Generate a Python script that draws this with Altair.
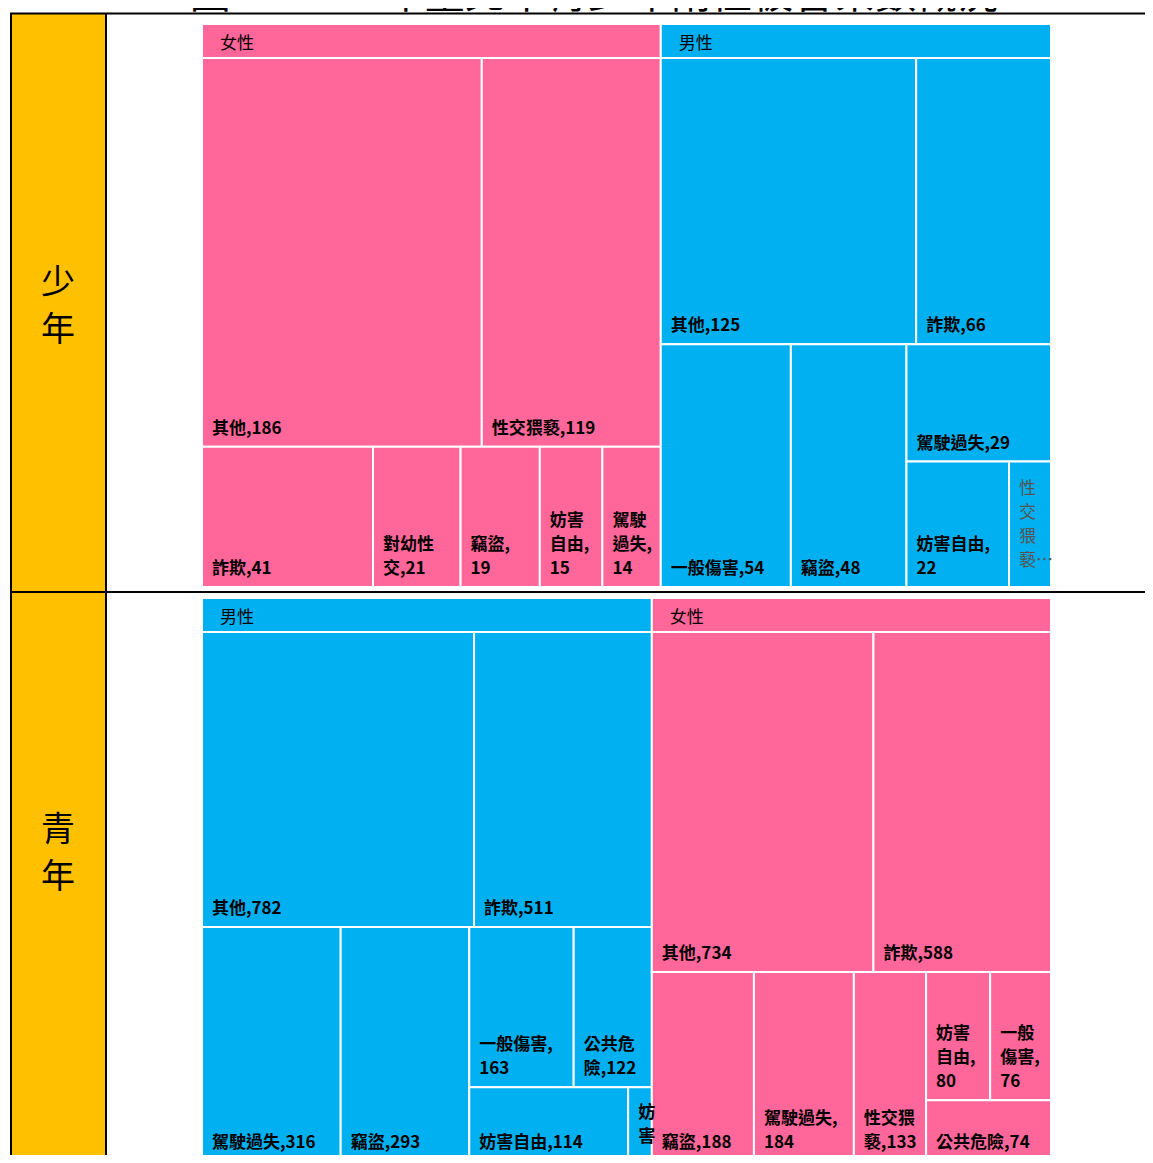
import altair as alt
import pandas as pd

# ---------------- data ----------------
TITLE = "圖\u20021\u2002111\u2002年臺北市青少年兩性被害案數概況"
row_names = ["少\n年", "青\n年"]

teen_groups = ["女性", "男性"]
teen_female_cats = ["其他", "性交猥褻", "詐欺", "對幼性交", "竊盜", "妨害自由", "駕駛過失"]
teen_female_vals = [186, 119, 41, 21, 19, 15, 14]
teen_male_cats = ["其他", "詐欺", "一般傷害", "竊盜", "駕駛過失", "妨害自由", "性交猥褻"]
teen_male_vals = [125, 66, 54, 48, 29, 22, 9]

youth_groups = ["男性", "女性"]
youth_male_cats = ["其他", "詐欺", "駕駛過失", "竊盜", "一般傷害", "公共危險", "妨害自由", "妨害性自主"]
youth_male_vals = [782, 511, 316, 293, 163, 122, 114, 17]
youth_female_cats = ["其他", "詐欺", "竊盜", "駕駛過失", "性交猥褻", "妨害自由", "一般傷害", "公共危險"]
youth_female_vals = [734, 588, 188, 184, 133, 80, 76, 74]

GROUP_COLORS = {"女性": "#FF6699", "男性": "#00B0F0"}

# ---------------- layout helpers ----------------
PHI = (1 + 5 ** 0.5) / 2


def badness(w, h):
    a = h / w
    return max(a / PHI, PHI / a)


def squarify(values, x0, y0, x1, y1):
    rects = [None] * len(values)
    n = len(values)
    i = 0
    while i < n:
        W, H = x1 - x0, y1 - y0
        remaining = sum(values[i:])
        horiz = W <= H

        def worst(k):
            s = sum(values[i:k])
            if horiz:
                sh = H * s / remaining
                return max(badness(W * v / s, sh) for v in values[i:k])
            sw = W * s / remaining
            return max(badness(sw, H * v / s) for v in values[i:k])

        j = i + 1
        cur = worst(j)
        while j < n:
            nw = worst(j + 1)
            if nw > cur:
                break
            cur = nw
            j += 1
        s = sum(values[i:j])
        if horiz:
            sh = H * s / remaining
            xx = x0
            for k in range(i, j):
                ww = W * values[k] / s
                rects[k] = (xx, y0, xx + ww, y0 + sh)
                xx += ww
            y0 += sh
        else:
            sw = W * s / remaining
            yy = y0
            for k in range(i, j):
                hh = H * values[k] / s
                rects[k] = (x0, yy, x0 + sw, yy + hh)
                yy += hh
            x0 += sw
        i = j
    return rects


def tokens(s):
    out, i = [], 0
    while i < len(s):
        if s[i].isdigit():
            j = i
            while j < len(s) and s[j].isdigit():
                j += 1
            out.append(s[i:j])
            i = j
        else:
            out.append(s[i])
            i += 1
    return out


def tok_w(t):
    if t.isdigit():
        return 9.5 * len(t)
    if t == ",":
        return 8
    return 18


def wrap(s, avail):
    lines, cur, cw = [], "", 0
    for t in tokens(s):
        w = tok_w(t)
        if t == "," or cur == "" or cw + w <= avail:
            cur += t
            cw += w
        else:
            lines.append(cur)
            cur, cw = t, w
    lines.append(cur)
    return lines


# ---------------- build tables ----------------
TM_X0, TM_X1 = 202, 1051
HEADER = 34
LINE_H = 24
PANELS = [
    (24, 587, teen_groups, [(teen_female_cats, teen_female_vals), (teen_male_cats, teen_male_vals)]),
    (598, 1161, youth_groups, [(youth_male_cats, youth_male_vals), (youth_female_cats, youth_female_vals)]),
]

leaf_rows, head_rows, label_rows, trunc_rows, head_label_rows = [], [], [], [], []
for (py0, py1, groups, series) in PANELS:
    totals = [sum(v) for _, v in series]
    grects = squarify(totals, TM_X0, py0, TM_X1, py1)
    for g, (cats, vals), (gx0, gy0, gx1, gy1) in zip(groups, series, grects):
        color = GROUP_COLORS[g]
        head_rows.append(dict(x0=gx0, x1=gx1, y0=gy0, y1=gy0 + HEADER, color=color))
        head_label_rows.append(dict(x=gx0 + 18, y=gy0 + HEADER / 2 + 2.5, label=g))
        lrects = squarify(vals, gx0, gy0 + HEADER, gx1, gy1)
        for c, v, (rx0, ry0, rx1, ry1) in zip(cats, vals, lrects):
            leaf_rows.append(dict(x0=rx0, x1=rx1, y0=ry0, y1=ry1, color=color))
            w, h = rx1 - rx0, ry1 - ry0
            lines = wrap(f"{c},{v}", w - 17.5)
            maxl = max(1, int((h - 10) // LINE_H))
            target = label_rows
            n = len(lines)
            if n > maxl:
                lines = lines[:maxl]
                n = maxl
                if w >= 30:
                    lines[-1] = lines[-1].rstrip(",") + "…"
                    target = trunc_rows
                first_y = (ry0 + ry1) / 2 + 10 - (n - 1) * LINE_H / 2
            else:
                first_y = ry1 - 9 - (n - 1) * LINE_H
            target.append(dict(x=rx0 + 10, y=first_y, label="\n".join(lines)))

frame_fill = pd.DataFrame([dict(x0=11, x1=106, y0=14, y1=1163)])
frame_lines = pd.DataFrame([
    dict(x0=10, x1=1153, y0=13.5, y1=13.5),
    dict(x0=10, x1=1153, y0=592, y1=592),
    dict(x0=11, x1=11, y0=13, y1=1163),
    dict(x0=106, x1=106, y0=13, y1=1163),
])
row_label_df = pd.DataFrame([
    dict(x=58, y=284, label=row_names[0]),
    dict(x=58, y=831, label=row_names[1]),
])
title_df = pd.DataFrame([dict(x=594, y=7.5, label=TITLE)])

leaf_df = pd.DataFrame(leaf_rows)
head_df = pd.DataFrame(head_rows)
label_df = pd.DataFrame(label_rows)
trunc_df = pd.DataFrame(trunc_rows if trunc_rows else [dict(x=0, y=0, label="")])
head_label_df = pd.DataFrame(head_label_rows)

# ---------------- chart ----------------
W_PX, H_PX = 1137, 1147
xs = alt.Scale(domain=[8, 8 + W_PX], nice=False, zero=False)
ys = alt.Scale(domain=[8, 8 + H_PX], nice=False, zero=False, reverse=True)
FONT = "Noto Sans CJK TC"


def rect_enc(extra=None):
    enc = dict(
        x=alt.X("x0:Q", scale=xs, axis=None),
        x2="x1:Q",
        y=alt.Y("y0:Q", scale=ys, axis=None),
        y2="y1:Q",
    )
    if extra:
        enc.update(extra)
    return enc


def text_enc():
    return dict(
        x=alt.X("x:Q", scale=xs, axis=None),
        y=alt.Y("y:Q", scale=ys, axis=None),
        text="label:N",
    )


yellow = alt.Chart(frame_fill).mark_rect(color="#FFC000").encode(**rect_enc())
leaves = alt.Chart(leaf_df).mark_rect(stroke="white", strokeWidth=2).encode(
    **rect_enc(dict(color=alt.Color("color:N", scale=None)))
)
heads = alt.Chart(head_df).mark_rect(stroke="white", strokeWidth=2).encode(
    **rect_enc(dict(color=alt.Color("color:N", scale=None)))
)
lines = alt.Chart(frame_lines).mark_rule(color="black", strokeWidth=2).encode(**rect_enc())

leaf_text = alt.Chart(label_df).mark_text(
    font=FONT, fontSize=17, fontWeight="bold", align="left", baseline="bottom",
    lineBreak="\n", lineHeight=LINE_H, color="black"
).encode(**text_enc())
trunc_text = alt.Chart(trunc_df).mark_text(
    font=FONT, fontSize=17, fontWeight="normal", align="left", baseline="bottom",
    lineBreak="\n", lineHeight=LINE_H, color="#555555"
).encode(**text_enc())
head_text = alt.Chart(head_label_df).mark_text(
    font=FONT, fontSize=17, align="left", baseline="middle", color="black"
).encode(**text_enc())
row_text = alt.Chart(row_label_df).mark_text(
    font=FONT, fontSize=34, align="center", baseline="middle", lineBreak="\n",
    lineHeight=47, color="black"
).encode(**text_enc())
title_text = alt.Chart(title_df).mark_text(
    font=FONT, fontSize=41, align="center", baseline="alphabetic", color="black"
).encode(**text_enc())

chart = alt.layer(
    yellow, leaves, heads, lines, leaf_text, trunc_text, head_text, row_text, title_text
).properties(
    width=W_PX, height=H_PX, padding=0,
    autosize=alt.AutoSizeParams(type="none"),
).configure_view(strokeWidth=0)

chart.save("out.html", embed_options={"renderer": "svg", "actions": False})
